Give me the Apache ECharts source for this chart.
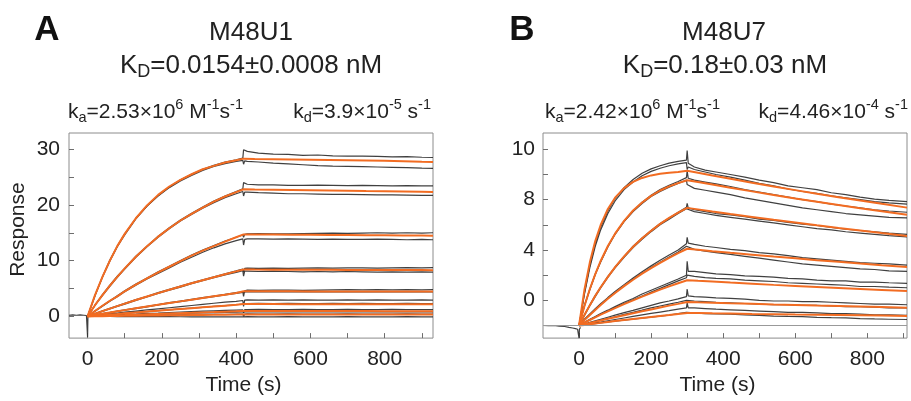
<!DOCTYPE html>
<html>
<head>
<meta charset="utf-8">
<script src="https://cdn.jsdelivr.net/npm/echarts@6/dist/echarts.min.js"></script>
<style>html,body{margin:0;padding:0;background:#fff}#c{width:911px;height:401px}</style>
</head>
<body>
<div id="c"></div>
<script>
// ---------- Panel A (M48U1) ----------
const xLabelsA = [0, 200, 400, 600, 800];
const xTicksA = [0, 100, 200, 300, 400, 500, 600, 700, 800, 900];
const yLabelsA = [0, 10, 20, 30];
const yTicksA = [0, 5, 10, 15, 20, 25, 30];

const baseTimesA = [-50, -40, -30, -20, -10, -3, -1, 0, 1, 3];
const baseValsA  = [0.2, 0.25, 0.2, 0.25, 0.2, 0.15, 0.1, -3.7, 0.1, 0.05];

const fitTimesA = [0,20,40,60,80,100,130,160,190,220,250,280,310,340,370,400,420,450,500,550,600,650,700,750,800,850,900,930];
const fitA1 = [0,3.8,7.1,10.0,12.6,14.8,17.6,19.9,21.8,23.3,24.5,25.5,26.4,27.0,27.6,28.0,28.3,28.25,28.2,28.15,28.1,28.05,28.0,27.95,27.9,27.85,27.75,27.7];
const fitA2 = [0,2.0,3.8,5.5,7.1,8.6,10.7,12.6,14.3,15.8,17.2,18.4,19.5,20.6,21.5,22.3,22.8,22.76,22.72,22.68,22.64,22.6,22.55,22.5,22.46,22.42,22.37,22.33];
const fitA3 = [0,0.96,1.9,2.8,3.6,4.5,5.7,6.8,7.9,8.9,9.9,10.9,11.8,12.6,13.4,14.2,14.7,14.69,14.67,14.65,14.63,14.61,14.59,14.57,14.55,14.53,14.5,14.48];
const fitA4 = [0,0.47,0.94,1.39,1.84,2.28,2.93,3.56,4.17,4.78,5.36,5.93,6.49,7.03,7.56,8.07,8.4,8.39,8.38,8.37,8.36,8.35,8.34,8.33,8.32,8.31,8.3,8.29];
const fitA5 = [0,0.23,0.46,0.68,0.9,1.12,1.44,1.76,2.07,2.38,2.69,2.99,3.29,3.6,3.89,4.2,4.5,4.5,4.49,4.49,4.48,4.48,4.47,4.47,4.46,4.46,4.45,4.45];
const fitA6 = [0,0.11,0.22,0.33,0.43,0.54,0.7,0.86,1.01,1.17,1.32,1.47,1.62,1.77,1.92,2.07,2.2,2.2,2.2,2.19,2.19,2.19,2.18,2.18,2.18,2.17,2.17,2.17];
const fitA7 = [0,0.05,0.1,0.14,0.19,0.23,0.3,0.37,0.44,0.51,0.58,0.64,0.71,0.77,0.84,0.9,0.95,0.95,0.95,0.95,0.94,0.94,0.94,0.94,0.93,0.93,0.93,0.93];
const fitA8 = [0,0.02,0.03,0.05,0.07,0.09,0.11,0.14,0.16,0.19,0.21,0.24,0.26,0.28,0.31,0.33,0.35,0.35,0.35,0.35,0.35,0.35,0.35,0.34,0.34,0.34,0.34,0.34];

const rawTimesA = [0,20,40,60,80,100,130,160,190,220,250,280,310,340,370,400,418,420,423,430,460,500,540,580,620,660,700,740,780,820,860,900,930];
const rawA1u = [0,3.7,7.0,9.9,12.5,14.6,17.5,19.8,21.7,23.2,24.5,25.5,26.4,27.1,27.7,28.1,28.4,29.9,29.6,29.6,29.3,29.1,29.05,28.9,28.95,28.8,28.75,28.75,28.7,28.6,28.65,28.55,28.5];
const rawA1l = [0,3.8,7.1,10.1,12.6,14.8,17.6,19.8,21.6,23.1,24.3,25.3,26.2,26.9,27.4,27.8,28.0,27.3,27.9,27.8,27.7,27.5,27.35,27.2,27.05,26.95,26.9,26.85,26.8,26.75,26.7,26.6,26.55];
const rawA2u = [0,2.0,3.9,5.6,7.2,8.6,10.8,12.6,14.4,15.9,17.3,18.5,19.6,20.7,21.6,22.4,22.9,24.0,23.8,23.7,23.6,23.6,23.5,23.5,23.55,23.5,23.45,23.5,23.45,23.4,23.45,23.4,23.4];
const rawA2l = [0,2.0,3.7,5.4,7.0,8.5,10.6,12.5,14.2,15.7,17.1,18.3,19.4,20.4,21.3,22.0,22.4,21.6,22.3,22.3,22.2,22.1,22.0,22.0,21.95,21.9,21.9,21.85,21.8,21.8,21.75,21.7,21.7];
const rawA3u = [0,1.0,1.9,2.8,3.7,4.6,5.8,6.9,8.0,9.0,10.0,11.0,11.9,12.7,13.5,14.2,14.6,14.2,14.7,14.8,14.85,14.8,14.8,14.85,14.9,14.95,14.9,14.95,15.0,14.95,15.0,14.95,15.0];
const rawA3l = [0,0.9,1.8,2.7,3.5,4.4,5.6,6.7,7.7,8.7,9.7,10.6,11.5,12.3,13.0,13.6,13.9,12.8,13.8,13.9,13.9,13.85,13.9,13.85,13.8,13.85,13.8,13.8,13.85,13.8,13.75,13.8,13.75];
const rawA4u = [0,0.5,1.0,1.45,1.9,2.35,3.0,3.6,4.25,4.85,5.45,6.0,6.55,7.1,7.65,8.15,8.5,8.0,8.6,8.65,8.6,8.65,8.6,8.65,8.7,8.65,8.7,8.7,8.65,8.7,8.75,8.7,8.75];
const rawA4l = [0,0.45,0.9,1.35,1.8,2.2,2.85,3.5,4.1,4.7,5.25,5.85,6.4,6.95,7.45,7.9,8.2,7.2,8.1,8.1,8.05,8.1,8.05,8.0,8.05,8.0,8.05,8.0,7.95,8.0,7.95,8.0,7.95];
const rawA5u = [0,0.25,0.5,0.7,0.95,1.15,1.5,1.8,2.1,2.45,2.75,3.05,3.35,3.65,3.95,4.25,4.4,3.6,4.6,4.7,4.65,4.7,4.7,4.65,4.7,4.75,4.8,4.75,4.8,4.75,4.8,4.75,4.8];
const rawA5l = [0,0.2,0.45,0.65,0.9,1.1,1.4,1.7,2.05,2.35,2.65,2.95,3.25,3.55,3.85,4.1,4.3,4.3,4.4,4.45,4.4,4.45,4.4,4.45,4.4,4.4,4.45,4.4,4.4,4.45,4.4,4.4,4.4];
const rawA6u = [0,0.15,0.3,0.45,0.6,0.75,0.95,1.15,1.35,1.55,1.75,1.95,2.15,2.35,2.55,2.7,2.85,1.8,2.9,2.95,2.9,2.95,2.9,2.95,2.9,2.9,2.95,2.9,2.95,2.9,2.9,2.95,2.9];
const rawA6l = [0,0.1,0.2,0.32,0.43,0.54,0.7,0.86,1.02,1.17,1.33,1.48,1.63,1.78,1.93,2.08,2.2,2.2,2.3,2.3,2.35,2.3,2.35,2.3,2.3,2.35,2.3,2.35,2.3,2.3,2.35,2.3,2.3];
const rawA7u = [0,0.07,0.13,0.2,0.26,0.33,0.42,0.52,0.6,0.69,0.78,0.86,0.94,1.0,1.07,1.12,1.15,0.6,1.2,1.2,1.25,1.2,1.2,1.25,1.2,1.2,1.25,1.2,1.2,1.25,1.2,1.2,1.2];
const rawA7l = [0,0.04,0.09,0.13,0.17,0.21,0.27,0.33,0.39,0.45,0.51,0.57,0.63,0.68,0.73,0.77,0.8,0.8,0.8,0.85,0.8,0.8,0.85,0.8,0.8,0.8,0.85,0.8,0.8,0.8,0.85,0.8,0.8];
const rawA8u = [0,0.02,0.05,0.07,0.09,0.11,0.14,0.18,0.21,0.24,0.27,0.3,0.33,0.35,0.37,0.39,0.4,0.0,0.4,0.45,0.4,0.4,0.45,0.4,0.4,0.4,0.45,0.4,0.4,0.4,0.45,0.4,0.4];
const rawA8l = [0,-0.01,-0.01,-0.02,-0.03,-0.03,-0.04,-0.05,-0.06,-0.06,-0.07,-0.08,-0.08,-0.09,-0.09,-0.1,-0.1,-0.4,-0.1,-0.05,-0.1,-0.1,-0.05,-0.1,-0.1,-0.1,-0.05,-0.1,-0.1,-0.1,-0.05,-0.1,-0.1];

// ---------- Panel B (M48U7) ----------
const xLabelsB = [0, 200, 400, 600, 800];
const xTicksB = [0, 100, 200, 300, 400, 500, 600, 700, 800, 900];
const yLabelPosB = [0, 4, 8, 12];
const yLabelTextB = ['0', '4', '8', '10'];
const yTicksB = [-2, 0, 2, 4, 6, 8, 10, 12];
const refLineB = -2;

const baseTimesB = [-100,-85,-70,-55,-40,-28,-18,-10,-4,-1,0,1,4];
const baseValsB  = [-2.0,-2.02,-2.0,-2.05,-2.08,-2.15,-2.2,-2.25,-2.3,-2.25,-3.0,-2.3,-2.15];

const fitTimesB = [0,15,30,45,60,80,100,125,150,175,200,225,250,275,300,330,370,420,480,540,600,660,720,780,840,910];
const fitB1 = [-2,0.84,3.02,4.71,5.99,7.26,8.16,8.92,9.41,9.73,9.93,10.06,10.14,10.2,10.3,10.14,9.92,9.66,9.35,9.05,8.76,8.47,8.2,7.93,7.67,7.37];
const fitB2 = [-2,-0.45,0.9,2.09,3.13,4.32,5.3,6.32,7.14,7.78,8.3,8.73,9.06,9.32,9.55,9.4,9.2,8.95,8.66,8.38,8.1,7.84,7.58,7.32,7.08,6.8];
const fitB3 = [-2,-1.16,-0.38,0.36,1.04,1.87,2.64,3.5,4.26,4.94,5.53,6.08,6.55,6.97,7.35,7.23,7.06,6.86,6.63,6.4,6.18,5.96,5.75,5.55,5.35,5.12];
const fitB4 = [-2,-1.57,-1.16,-0.76,-0.37,0.12,0.58,1.13,1.64,2.12,2.56,2.98,3.38,3.75,4.1,4.02,3.91,3.78,3.63,3.48,3.34,3.19,3.06,2.92,2.79,2.65];
const fitB5 = [-2,-1.78,-1.56,-1.35,-1.14,-0.88,-0.62,-0.3,0.0,0.3,0.57,0.85,1.11,1.36,1.6,1.55,1.49,1.41,1.32,1.23,1.15,1.07,0.99,0.91,0.83,0.74];
const fitB6 = [-2,-1.9,-1.8,-1.7,-1.6,-1.47,-1.34,-1.18,-1.02,-0.87,-0.72,-0.57,-0.42,-0.28,-0.13,-0.16,-0.19,-0.23,-0.27,-0.32,-0.36,-0.41,-0.45,-0.49,-0.53,-0.58];
const fitB7 = [-2,-1.95,-1.9,-1.85,-1.79,-1.72,-1.65,-1.57,-1.49,-1.41,-1.33,-1.25,-1.17,-1.08,-1.0,-1.01,-1.03,-1.05,-1.08,-1.1,-1.13,-1.15,-1.17,-1.19,-1.21,-1.24];

const rawTimesB = [0,15,30,45,60,80,100,125,150,175,200,225,250,275,298,300,303,320,350,380,420,460,500,540,580,620,660,700,740,780,820,860,910];
const rawB1u = [-2,0.6,2.8,4.5,5.8,7.1,8.1,8.95,9.6,10.1,10.45,10.7,10.9,11.05,11.15,11.9,10.9,10.6,10.35,10.2,10.0,9.8,9.55,9.35,9.1,8.95,8.8,8.55,8.4,8.2,8.05,7.95,7.85];
const rawB1l = [-2,0.5,2.6,4.3,5.6,6.9,7.9,8.8,9.4,9.9,10.25,10.5,10.7,10.85,10.95,10.4,10.6,10.4,10.2,10.0,9.8,9.55,9.3,9.1,8.85,8.65,8.5,8.3,8.15,8.0,7.85,7.75,7.65];
const rawB2u = [-2,-0.4,0.9,2.1,3.1,4.3,5.3,6.3,7.1,7.8,8.35,8.8,9.15,9.45,9.75,10.3,9.7,9.55,9.4,9.25,9.05,8.8,8.6,8.4,8.2,8.0,7.85,7.65,7.5,7.35,7.2,7.1,7.0];
const rawB2l = [-2,-0.45,0.85,2.05,3.05,4.25,5.25,6.25,7.05,7.7,8.25,8.65,9.0,9.3,9.55,9.2,9.05,8.9,8.75,8.6,8.4,8.15,7.95,7.75,7.55,7.35,7.2,7.05,6.9,6.8,6.7,6.6,6.55];
const rawB3u = [-2,-1.15,-0.35,0.4,1.05,1.9,2.65,3.5,4.3,4.95,5.55,6.1,6.55,7.0,7.4,7.7,7.35,7.2,7.05,6.9,6.8,6.65,6.45,6.35,6.2,6.05,5.95,5.8,5.65,5.55,5.45,5.35,5.25];
const rawB3l = [-2,-1.2,-0.42,0.3,0.98,1.82,2.58,3.42,4.2,4.86,5.46,6.0,6.45,6.9,7.28,7.3,7.2,7.05,6.9,6.75,6.6,6.45,6.3,6.15,6.0,5.85,5.7,5.6,5.45,5.35,5.25,5.15,5.05];
const rawB4u = [-2,-1.5,-1.08,-0.66,-0.27,0.22,0.7,1.25,1.78,2.28,2.74,3.18,3.6,4.0,4.5,5.0,4.55,4.45,4.3,4.2,4.05,3.95,3.8,3.7,3.55,3.4,3.3,3.2,3.1,3.0,2.95,2.9,2.8];
const rawB4l = [-2,-1.55,-1.14,-0.74,-0.35,0.14,0.6,1.15,1.67,2.15,2.6,3.02,3.44,3.85,4.3,4.3,4.15,4.05,3.9,3.8,3.65,3.5,3.35,3.2,3.05,2.9,2.8,2.7,2.6,2.5,2.45,2.35,2.3];
const rawB5u = [-2,-1.75,-1.5,-1.28,-1.05,-0.78,-0.5,-0.15,0.15,0.5,0.8,1.1,1.4,1.7,2.0,3.1,2.3,2.3,2.2,2.1,2.05,1.95,1.9,1.85,1.75,1.7,1.6,1.55,1.55,1.45,1.45,1.4,1.35];
const rawB5l = [-2,-1.78,-1.55,-1.33,-1.1,-0.85,-0.58,-0.25,0.05,0.35,0.65,0.95,1.25,1.55,1.8,2.0,1.95,1.9,1.8,1.75,1.7,1.6,1.55,1.5,1.4,1.35,1.3,1.25,1.2,1.1,1.1,1.05,1.0];
const rawB6u = [-2,-1.88,-1.75,-1.62,-1.5,-1.34,-1.18,-0.98,-0.8,-0.6,-0.4,-0.2,-0.05,0.12,0.3,0.9,0.35,0.3,0.25,0.2,0.15,0.1,0.0,-0.05,-0.05,-0.1,-0.1,-0.15,-0.2,-0.25,-0.3,-0.3,-0.35];
const rawB6l = [-2,-1.9,-1.8,-1.7,-1.58,-1.45,-1.3,-1.12,-0.95,-0.78,-0.6,-0.45,-0.3,-0.15,0.0,0.0,-0.05,-0.05,-0.1,-0.15,-0.2,-0.25,-0.3,-0.35,-0.35,-0.4,-0.4,-0.45,-0.5,-0.5,-0.55,-0.6,-0.6];
const rawB7u = [-2,-1.93,-1.86,-1.79,-1.72,-1.62,-1.52,-1.4,-1.28,-1.16,-1.04,-0.93,-0.82,-0.7,-0.6,-0.2,-0.6,-0.6,-0.65,-0.7,-0.75,-0.8,-0.85,-0.9,-0.95,-0.95,-1.0,-1.05,-1.05,-1.1,-1.15,-1.15,-1.2];
const rawB7l = [-2,-1.95,-1.9,-1.85,-1.8,-1.72,-1.65,-1.57,-1.49,-1.41,-1.33,-1.25,-1.17,-1.06,-0.95,-0.95,-1.0,-1.0,-1.05,-1.08,-1.1,-1.15,-1.2,-1.25,-1.28,-1.3,-1.35,-1.38,-1.4,-1.45,-1.48,-1.5,-1.52];

// ---------- build ----------
const FF = '"Liberation Sans", Arial, sans-serif';
const TXT = '#222';
const ORANGE = '#f26c22';
const BLACK = '#2b2b2b';
const pairs = (ts, vs) => ts.map((t, i) => [t, vs[i]]);

function lineSeries(idx, ts, vs, kind, extra) {
  const isFit = kind === 'fit';
  return Object.assign({
    type: 'line', xAxisIndex: idx, yAxisIndex: idx,
    data: pairs(ts, vs), showSymbol: false, symbol: 'none',
    lineStyle: { color: isFit ? ORANGE : BLACK, width: isFit ? 2 : 1.2, opacity: isFit ? 1 : 0.9 },
    z: isFit ? 4 : 3, silent: true, animation: false
  }, extra || {});
}

const series = [];
series.push(lineSeries(0, baseTimesA, baseValsA, 'raw'));
[rawA1u, rawA1l, rawA2u, rawA2l, rawA3u, rawA3l, rawA4u, rawA4l, rawA5u, rawA5l, rawA6u, rawA6l, rawA7u, rawA7l, rawA8u, rawA8l]
  .forEach(v => series.push(lineSeries(0, rawTimesA, v, 'raw')));
[fitA1, fitA2, fitA3, fitA4, fitA5, fitA6, fitA7, fitA8]
  .forEach(v => series.push(lineSeries(0, fitTimesA, v, 'fit')));

series.push(lineSeries(1, baseTimesB, baseValsB, 'raw', {
  markLine: { silent: true, symbol: ['none', 'none'], label: { show: false },
    lineStyle: { color: '#999', width: 1, type: 'solid' }, data: [{ yAxis: refLineB }], animation: false }
}));
[rawB1u, rawB1l, rawB2u, rawB2l, rawB3u, rawB3l, rawB4u, rawB4l, rawB5u, rawB5l, rawB6u, rawB6l, rawB7u, rawB7l]
  .forEach(v => series.push(lineSeries(1, rawTimesB, v, 'raw')));
[fitB1, fitB2, fitB3, fitB4, fitB5, fitB6, fitB7]
  .forEach(v => series.push(lineSeries(1, fitTimesB, v, 'fit')));

const TICK = { show: true, inside: true, length: 5, lineStyle: { color: '#6e6e6e', width: 1 } };

function xAxis(idx, min, max, labels, ticks) {
  return {
    type: 'value', gridIndex: idx, min, max,
    axisLine: { show: false, onZero: false },
    axisTick: Object.assign({ customValues: ticks }, TICK),
    axisLabel: { customValues: labels, fontSize: 21, fontFamily: FF, color: TXT, margin: 11 },
    splitLine: { show: false },
    name: 'Time (s)', nameLocation: 'middle', nameGap: 34,
    nameTextStyle: { fontSize: 21, fontFamily: FF, color: TXT, padding: [0, 15, 0, 0] }
  };
}

const option = {
  animation: false,
  backgroundColor: '#fff',
  grid: [
    { left: 69, top: 133, width: 364, height: 207, show: true, borderColor: '#8c8c8c', borderWidth: 1, backgroundColor: 'transparent' },
    { left: 543, top: 133, width: 364, height: 208, show: true, borderColor: '#8c8c8c', borderWidth: 1, backgroundColor: 'transparent' }
  ],
  xAxis: [xAxis(0, -50, 930, xLabelsA, xTicksA), xAxis(1, -100, 910, xLabelsB, xTicksB)],
  yAxis: [
    {
      type: 'value', gridIndex: 0, min: -3.9, max: 32.9,
      axisLine: { show: false, onZero: false },
      axisTick: Object.assign({ customValues: yTicksA }, TICK),
      axisLabel: { customValues: yLabelsA, fontSize: 21, fontFamily: FF, color: TXT, margin: 9 },
      splitLine: { show: false },
      name: 'Response', nameLocation: 'middle', nameGap: 40,
      nameTextStyle: { fontSize: 21, fontFamily: FF, color: TXT, padding: [0, 0, 0, 12] }
    },
    {
      type: 'value', gridIndex: 1, min: -3.0, max: 13.3,
      axisLine: { show: false, onZero: false },
      axisTick: Object.assign({ customValues: yTicksB }, TICK),
      axisLabel: { customValues: yLabelPosB, fontSize: 21, fontFamily: FF, color: TXT, margin: 8,
        formatter: v => yLabelTextB[yLabelPosB.indexOf(v)] },
      splitLine: { show: false }
    }
  ],
  series,
  graphic: []
};

function rich(size, subSize, supSize, subShift, supShift) {
  return {
    n: { fontSize: size, fontFamily: FF, fill: TXT, lineHeight: 44 },
    sub: { fontSize: subSize, fontFamily: FF, fill: TXT, lineHeight: subSize, padding: [2 * subShift, 0, 0, 0] },
    sup: { fontSize: supSize, fontFamily: FF, fill: TXT, lineHeight: supSize, padding: [0, 0, 2 * supShift, 0] }
  };
}
function txt(x, y, text, opts) {
  return {
    type: 'text', x, y, silent: true,
    style: Object.assign({ text, fill: TXT, fontFamily: FF, textAlign: 'center', textVerticalAlign: 'middle' }, opts)
  };
}
const g = option.graphic;
g.push(txt(47, 30, 'A', { fontSize: 35, fontWeight: 'bold', fill: '#111' }));
g.push(txt(522, 30, 'B', { fontSize: 35, fontWeight: 'bold', fill: '#111' }));
g.push(txt(251, 33, 'M48U1', { fontSize: 26 }));
g.push(txt(724, 33, 'M48U7', { fontSize: 26 }));
g.push(txt(251, 66, '{n|K}{sub|D}{n|=0.0154±0.0008 nM}', { fontSize: 26, lineHeight: 44, rich: rich(26, 18, 14, 6.5, 7) }));
g.push(txt(725, 66, '{n|K}{sub|D}{n|=0.18±0.03 nM}', { fontSize: 26, lineHeight: 44, rich: rich(26, 18, 14, 6.5, 7) }));
g.push(txt(68, 112, '{n|k}{sub|a}{n|=2.53×10}{sup|6}{n| M}{sup|-1}{n|s}{sup|-1}', { fontSize: 21, lineHeight: 44, textAlign: 'left', rich: rich(21, 14.5, 14.5, 6, 7) }));
g.push(txt(431, 112, '{n|k}{sub|d}{n|=3.9×10}{sup|-5}{n| s}{sup|-1}', { fontSize: 21, lineHeight: 44, textAlign: 'right', rich: rich(21, 14.5, 14.5, 6, 7) }));
g.push(txt(545, 112, '{n|k}{sub|a}{n|=2.42×10}{sup|6}{n| M}{sup|-1}{n|s}{sup|-1}', { fontSize: 21, lineHeight: 44, textAlign: 'left', rich: rich(21, 14.5, 14.5, 6, 7) }));
g.push(txt(908, 112, '{n|k}{sub|d}{n|=4.46×10}{sup|-4}{n| s}{sup|-1}', { fontSize: 21, lineHeight: 44, textAlign: 'right', rich: rich(21, 14.5, 14.5, 6, 7) }));

const chart = echarts.init(document.getElementById('c'), null, { renderer: 'canvas' });
chart.setOption(option);
</script>
</body>
</html>
